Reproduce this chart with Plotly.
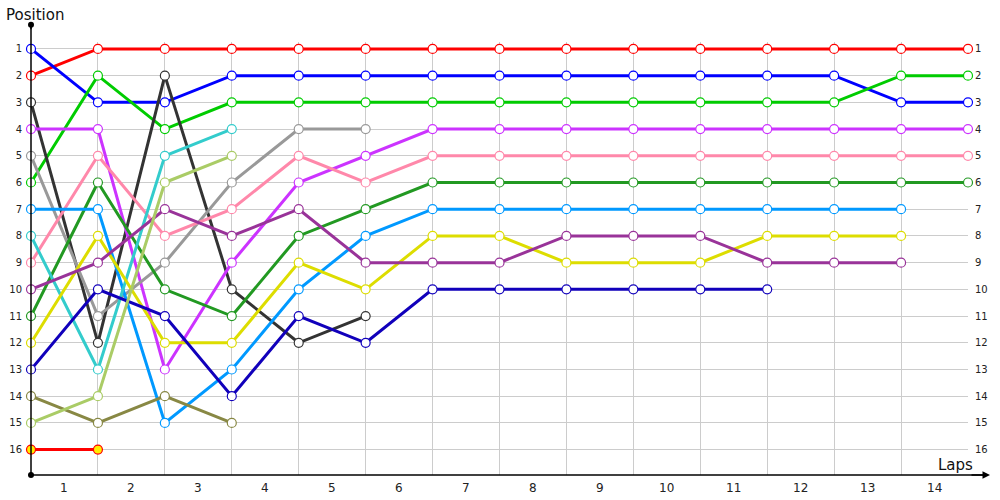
import plotly.graph_objects as go

# lap 0 = grid, then laps 1..14
laps = list(range(15))
lap_labels = [str(i) for i in range(1, 15)]
positions = list(range(1, 17))

driver_colors = [
    '#FF0000', '#0000FF', '#00CC00', '#333333', '#CC33FF', '#999999',
    '#FF88AA', '#229922', '#0099FF', '#33CCCC', '#DDDD00', '#993399',
    '#1100BB', '#888844', '#AACC66', '#FF0000',
]

# position of each driver per lap (lap 0 .. last lap completed)
driver_positions = [
    [2, 1, 1, 1, 1, 1, 1, 1, 1, 1, 1, 1, 1, 1, 1],
    [1, 3, 3, 2, 2, 2, 2, 2, 2, 2, 2, 2, 2, 3, 3],
    [6, 2, 4, 3, 3, 3, 3, 3, 3, 3, 3, 3, 3, 2, 2],
    [3, 12, 2, 10, 12, 11],
    [4, 4, 13, 9, 6, 5, 4, 4, 4, 4, 4, 4, 4, 4, 4],
    [5, 11, 9, 6, 4, 4],
    [9, 5, 8, 7, 5, 6, 5, 5, 5, 5, 5, 5, 5, 5, 5],
    [11, 6, 10, 11, 8, 7, 6, 6, 6, 6, 6, 6, 6, 6, 6],
    [7, 7, 15, 13, 10, 8, 7, 7, 7, 7, 7, 7, 7, 7],
    [8, 13, 5, 4],
    [12, 8, 12, 12, 9, 10, 8, 8, 9, 9, 9, 8, 8, 8],
    [10, 9, 7, 8, 7, 9, 9, 9, 8, 8, 8, 9, 9, 9],
    [13, 10, 11, 14, 11, 12, 10, 10, 10, 10, 10, 10],
    [14, 15, 14, 15],
    [15, 14, 6, 5],
    [16, 16],
]

marker_fills = ['white'] * 15 + ['#FFEE00']

fig = go.Figure()

for i, pos in enumerate(driver_positions):
    fig.add_trace(go.Scatter(
        x=laps[:len(pos)], y=pos, mode='lines+markers',
        line=dict(color=driver_colors[i], width=3),
        marker=dict(size=9, color=marker_fills[i],
                    line=dict(color=driver_colors[i], width=1.2)),
        cliponaxis=False, showlegend=False, hoverinfo='x+y'
    ))

# right-hand position labels
fig.add_trace(go.Scatter(x=[None], y=[None], yaxis='y2', showlegend=False))

font_fam = 'DejaVu Sans'
grid_col = '#CCCCCC'
y_range = [16.95, 0.74]

fig.update_layout(
    width=1000, height=500,
    margin=dict(l=31, r=32, t=42, b=25, autoexpand=False),
    plot_bgcolor='white', paper_bgcolor='white',
    xaxis=dict(range=[0, 14], tickvals=laps, showticklabels=False, automargin=False,
               showgrid=True, gridcolor=grid_col, gridwidth=1,
               zeroline=False, showline=False, ticks=''),
    yaxis=dict(range=y_range, tickvals=positions, ticktext=[str(p) for p in positions],
               showgrid=True, gridcolor=grid_col, gridwidth=1, zeroline=False,
               showline=False, ticks='', ticklabelstandoff=8, automargin=False,
               tickfont=dict(family=font_fam, size=10, color='#222222')),
    yaxis2=dict(range=y_range, overlaying='y', side='right', tickvals=positions,
                ticktext=[str(p) for p in positions], showgrid=False, zeroline=False,
                showline=False, ticks='', ticklabelstandoff=6, automargin=False,
                tickfont=dict(family=font_fam, size=10, color='#222222')),
)

# lap labels between grid lines
for k, lab in enumerate(lap_labels):
    fig.add_annotation(x=k + 0.5, y=0, xref='x', yref='paper', yanchor='middle',
                       yshift=-13, text=lab, showarrow=False,
                       font=dict(family=font_fam, size=12, color='#222222'))

# axis lines with arrow ends
fig.add_shape(type='line', xref='paper', yref='paper', x0=0, x1=0, y0=0, y1=1.039,
              line=dict(color='black', width=1.5))
fig.add_shape(type='line', xref='paper', yref='paper', x0=0, x1=1.02, y0=0, y1=0,
              line=dict(color='black', width=1.5))
fig.add_annotation(xref='paper', yref='paper', x=1.0235, y=0, ax=-20, ay=0,
                   showarrow=True, arrowhead=2, arrowsize=1, arrowwidth=1.5,
                   arrowcolor='black', text='')
fig.add_annotation(xref='paper', yref='paper', x=0, y=1.04, ax=0, ay=6,
                   showarrow=True, arrowhead=6, arrowsize=1, arrowwidth=1.5,
                   arrowcolor='black', text='')
fig.add_annotation(xref='paper', yref='paper', x=0, y=0, ax=0, ay=-4,
                   showarrow=True, arrowhead=6, arrowsize=1, arrowwidth=1.5,
                   arrowcolor='black', text='')

fig.add_annotation(xref='paper', yref='paper', x=-0.029, y=1.062, xanchor='left',
                   yanchor='middle', text='Position', showarrow=False,
                   font=dict(family=font_fam, size=15, color='#111111'))
fig.add_annotation(xref='paper', yref='paper', x=1.008, y=0.023, xanchor='right',
                   yanchor='middle', text='Laps', showarrow=False,
                   font=dict(family=font_fam, size=15, color='#111111'))

# drop the default page margin so the figure sits at the window's corner
fig.write_html("out.html", config={'displayModeBar': False},
               post_script="document.body.style.margin='0';")
